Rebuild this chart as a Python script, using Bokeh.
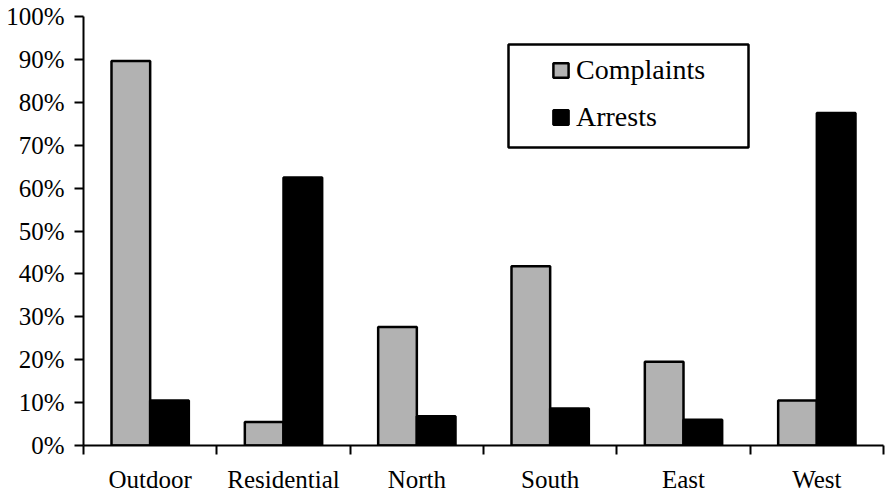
from bokeh.plotting import figure
from bokeh.models import (ColumnDataSource, FixedTicker, Legend, LegendItem,
                          BoxAnnotation)
from bokeh.embed import file_html
from bokeh.resources import INLINE

# Share of complaints and arrests by area (percent)
categories = ["Outdoor", "Residential", "North", "South", "East", "West"]
complaints = [89.6, 5.5, 27.6, 41.8, 19.5, 10.5]
arrests = [10.5, 62.5, 6.8, 8.6, 6.0, 77.5]
y_ticks = [0, 10, 20, 30, 40, 50, 60, 70, 80, 90, 100]
y_tick_labels = ["0%", "10%", "20%", "30%", "40%", "50%", "60%", "70%", "80%", "90%", "100%"]

FONT = "Liberation Serif"
GREY = "#b2b2b2"

idx = list(range(len(categories)))
centers = [i + 0.5 for i in idx]
bar_w = 0.29
src = ColumnDataSource(dict(
    xc=[c - bar_w / 2 for c in centers],
    xa=[c + bar_w / 2 for c in centers],
    complaints=complaints,
    arrests=arrests,
))

p = figure(width=887, height=495, x_range=(0, len(categories)), y_range=(0, 100),
           output_backend="svg", toolbar_location=None,
           min_border_left=83, min_border_right=4, min_border_top=16, min_border_bottom=49)
p.outline_line_color = None
p.xgrid.visible = False
p.ygrid.visible = False
p.background_fill_color = "white"
p.border_fill_color = "white"

r_c = p.vbar(x="xc", top="complaints", width=bar_w, bottom=0, source=src,
             fill_color=GREY, line_color="black", line_width=2.5)
r_a = p.vbar(x="xa", top="arrests", width=bar_w, bottom=0, source=src,
             fill_color="black", line_color="black", line_width=2.5)

# y axis: percent ticks pointing outward
ya = p.yaxis[0]
ya.ticker = FixedTicker(ticks=y_ticks, minor_ticks=[])
ya.major_label_overrides = {t: lab for t, lab in zip(y_ticks, y_tick_labels)}
ya.major_tick_out = 9
ya.major_tick_in = 0
ya.major_tick_line_width = 2
ya.axis_line_width = 2
ya.axis_line_color = "black"
ya.major_tick_line_color = "black"
ya.major_label_text_font = FONT
ya.major_label_text_font_size = "25px"
ya.major_label_text_color = "black"
ya.major_label_standoff = 10

# x axis: labels centred in each group, tick marks between groups
xa = p.xaxis[0]
xa.ticker = FixedTicker(ticks=centers, minor_ticks=[float(i) for i in range(len(categories) + 1)])
xa.major_label_overrides = {c: name for c, name in zip(centers, categories)}
xa.major_tick_out = 0
xa.major_tick_in = 0
xa.minor_tick_out = 9
xa.minor_tick_in = 0
xa.minor_tick_line_width = 2
xa.minor_tick_line_color = "black"
xa.axis_line_width = 2
xa.axis_line_color = "black"
xa.major_label_text_font = FONT
xa.major_label_text_font_size = "25px"
xa.major_label_text_color = "black"
xa.major_label_standoff = 11
xa.major_label_text_line_height = 0.8

# legend frame
box = BoxAnnotation(left=508, right=748, top=44, bottom=147,
                    left_units="canvas", right_units="canvas",
                    top_units="canvas", bottom_units="canvas",
                    fill_color="white", fill_alpha=1.0,
                    line_color="black", line_alpha=1.0, line_width=2.5,
                    level="overlay")
p.add_layout(box)

legend = Legend(items=[LegendItem(label="Complaints", renderers=[r_c]),
                       LegendItem(label="Arrests", renderers=[r_a])],
                location=(458, 302), orientation="vertical",
                glyph_width=19, glyph_height=18, label_standoff=6,
                padding=10, spacing=15, margin=0,
                label_text_font=FONT, label_text_font_size="28px",
                label_text_color="black",
                border_line_alpha=0, background_fill_alpha=0)
p.add_layout(legend, "center")

open("out.html", "w").write(file_html(p, INLINE))
